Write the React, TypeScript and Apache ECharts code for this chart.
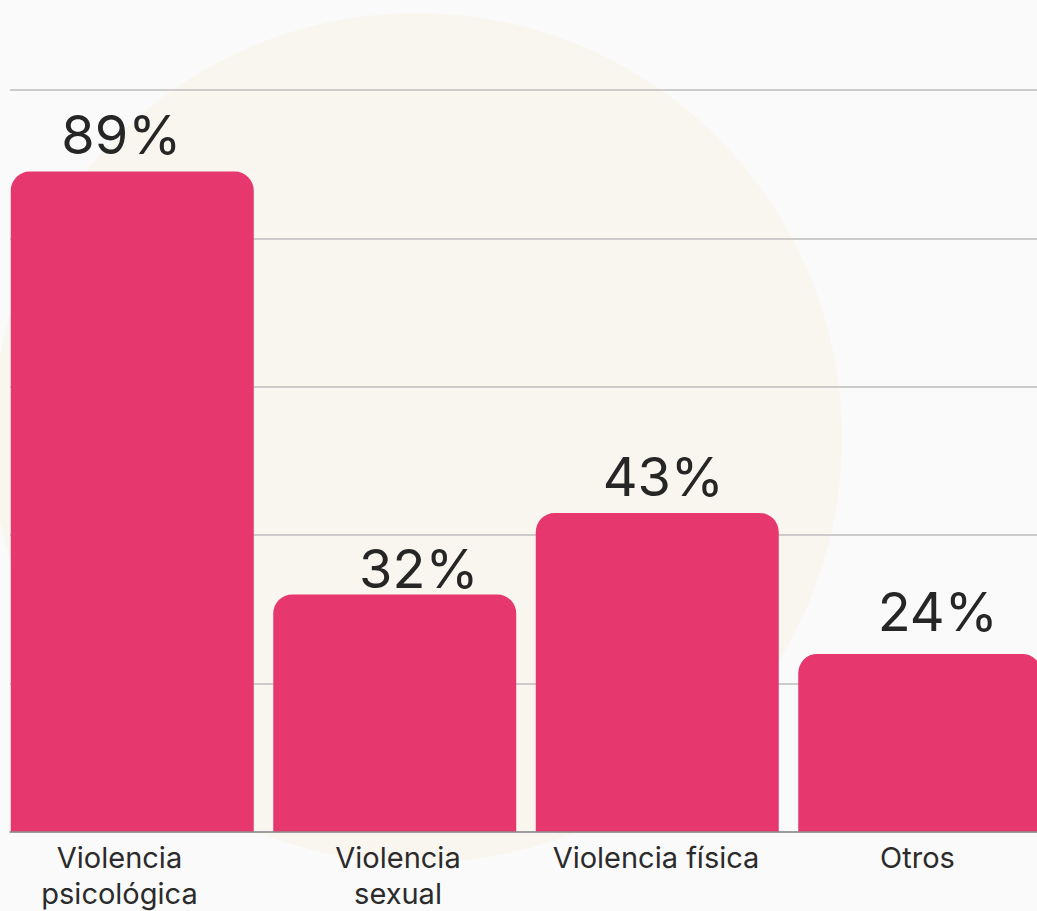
import React, { useEffect, useRef } from "react";
import * as echarts from "echarts";

// ---- data ----
const categories = ["Violencia\npsicológica", "Violencia\nsexual", "Violencia física", "Otros"];
const percentages = [89, 32, 43, 24];
const yMin = 0;
const yMax = 100;
const yStep = 20;

// ---- layout nudges (pixels), mirroring the reference's label placement ----
const valueLabelNudge: [number, number][] = [[-11, -1], [24, 10], [6, 0], [18, -6]];
const axisLabelPadRight = [43.5, 11.5, 20.5, 22.5];

const FONT = "Inter";

export default function App() {
  const ref = useRef<HTMLDivElement>(null);

  useEffect(() => {
    document.body.style.margin = "0";
    document.body.style.overflow = "hidden";
    document.body.style.background = "#fafafa";
    if (!ref.current) return;
    const chart = echarts.init(ref.current, undefined, { renderer: "svg" });

    const option: any = {
      animation: false,
      backgroundColor: "#fafafa",
      textStyle: { fontFamily: FONT },
      graphic: [
        {
          type: "circle",
          z: -10,
          silent: true,
          shape: { cx: 417, cy: 438, r: 425 },
          style: { fill: "#f9f6ef" },
        },
      ],
      grid: {
        left: 10,
        right: -23,
        top: 90,
        bottom: 79,
        containLabel: false,
        outerBoundsMode: "none",
      },
      xAxis: {
        type: "category",
        z: 5,
        data: categories.map((c, i) => ({
          value: c,
          textStyle: { padding: [0, axisLabelPadRight[i], 0, 0] },
        })),
        axisTick: { show: false },
        axisLine: { show: true, lineStyle: { color: "#8e8e8e", width: 1.5 } },
        axisLabel: {
          interval: 0,
          margin: 7,
          color: "#2b2b2b",
          fontFamily: FONT,
          fontSize: 29,
          lineHeight: 36,
          hideOverlap: false,
        },
      },
      yAxis: {
        type: "value",
        min: yMin,
        max: yMax,
        interval: yStep,
        axisLabel: { show: false },
        axisLine: { show: false },
        axisTick: { show: false },
        splitLine: { show: true, lineStyle: { color: "#bdbdbd", width: 1.5 } },
      },
      series: [
        {
          type: "bar",
          barWidth: 243,
          barGap: "0%",
          itemStyle: { color: "#e6376f", borderRadius: [19, 19, 0, 0] },
          label: {
            show: true,
            position: "top",
            distance: 9,
            formatter: "{c}%",
            fontFamily: FONT,
            fontSize: 54,
            color: "#262626",
          },
          data: percentages.map((v, i) => ({
            value: v,
            label: { offset: valueLabelNudge[i] },
          })),
        },
        {
          type: "bar",
          barWidth: 18,
          barGap: "0%",
          silent: true,
          data: percentages.map(() => null),
        },
      ],
    };

    chart.setOption(option);
    return () => chart.dispose();
  }, []);

  return <div ref={ref} style={{ width: 1037, height: 911 }} />;
}
